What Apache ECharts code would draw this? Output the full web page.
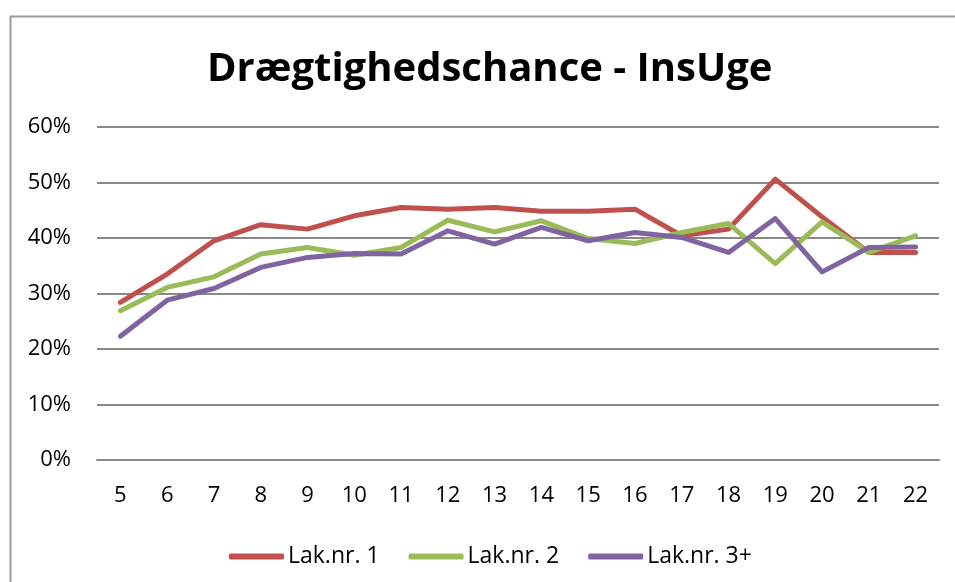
<!DOCTYPE html>
<html>
<head>
<meta charset="utf-8">
<script src="https://cdn.jsdelivr.net/npm/echarts@6/dist/echarts.min.js"></script>
<style>html,body{margin:0;padding:0;background:#fff}#c{width:955px;height:582px}</style>
</head>
<body>
<div id="c"></div>
<script>
var titleText = 'Drægtighedschance - InsUge';
var categories = ['5','6','7','8','9','10','11','12','13','14','15','16','17','18','19','20','21','22'];
var seriesNames = ['Lak.nr. 1', 'Lak.nr. 2', 'Lak.nr. 3+'];
var lak1 = [28.4, 33.5, 39.5, 42.4, 41.6, 44.0, 45.5, 45.2, 45.5, 44.8, 44.8, 45.2, 40.4, 41.6, 50.6, 43.8, 37.4, 37.4];
var lak2 = [26.9, 31.1, 33.0, 37.1, 38.3, 36.9, 38.3, 43.2, 41.1, 43.1, 39.9, 39.0, 41.0, 42.6, 35.4, 42.9, 37.4, 40.4];
var lak3 = [22.3, 28.8, 30.9, 34.7, 36.5, 37.2, 37.1, 41.3, 38.9, 41.9, 39.5, 41.0, 40.1, 37.4, 43.5, 33.9, 38.3, 38.4];
var colors = ['#C0504D', '#9BBB59', '#8064A2'];

var font = '"Open Sans", "Liberation Sans", sans-serif';
var chart = echarts.init(document.getElementById('c'), null, {renderer: 'canvas'});
function mk(name, data, color) {
  return {
    name: name, type: 'line', data: data, showSymbol: false, symbol: 'none',
    lineStyle: {width: 5, color: color, cap: 'round', join: 'round'},
    itemStyle: {color: color}, animation: false
  };
}
chart.setOption({
  animation: false,
  color: colors,
  graphic: [{
    type: 'rect', left: 8, top: 14, shape: {width: 960, height: 600},
    style: {fill: 'none', stroke: '#9a9a9a', lineWidth: 2}, silent: true, z: -1
  }],
  title: {
    text: titleText, left: 202, top: 45,
    textStyle: {fontFamily: font, fontSize: 40, fontWeight: 'bold', color: '#000'}
  },
  grid: {left: 97, right: 16, top: 127, bottom: 122, containLabel: false},
  legend: {
    data: seriesNames, top: 540, left: 224,
    icon: 'roundRect', itemWidth: 55, itemHeight: 6, itemGap: 29,
    textStyle: {fontFamily: font, fontSize: 23, color: '#000', padding: [0, 0, 0, -1]}
  },
  xAxis: {
    type: 'category', data: categories, boundaryGap: true,
    axisLine: {show: true, lineStyle: {color: '#888', width: 2}},
    axisTick: {show: false},
    axisLabel: {fontFamily: font, fontSize: 22, color: '#000', margin: 25}
  },
  yAxis: {
    type: 'value', min: 0, max: 60, interval: 10,
    axisLine: {show: false}, axisTick: {show: false},
    splitLine: {lineStyle: {color: '#888', width: 2}},
    axisLabel: {fontFamily: font, fontSize: 22, color: '#000', margin: 26, formatter: '{value}%'}
  },
  series: [mk(seriesNames[0], lak1, colors[0]), mk(seriesNames[1], lak2, colors[1]), mk(seriesNames[2], lak3, colors[2])]
});
</script>
</body>
</html>
